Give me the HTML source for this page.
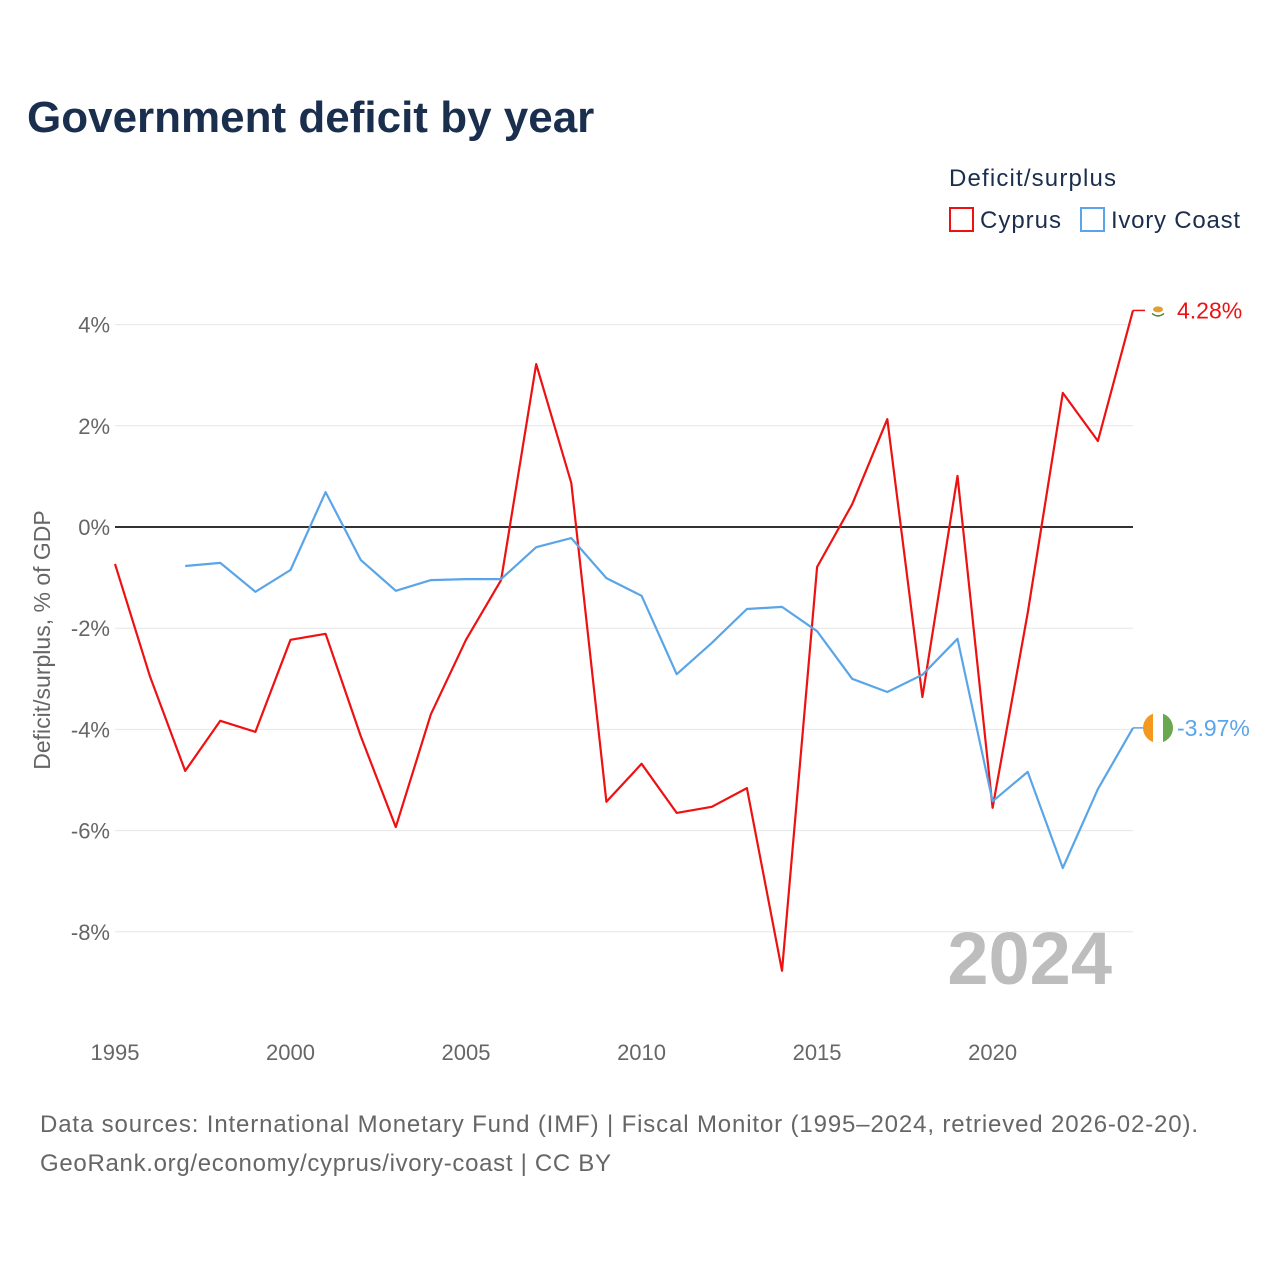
<!DOCTYPE html>
<html><head><meta charset="utf-8">
<style>
body{margin:0;background:#fff;font-family:"Liberation Sans",sans-serif;}
svg text{font-family:"Liberation Sans",sans-serif;}
</style></head>
<body>
<svg id="chart" width="1280" height="1280" xmlns="http://www.w3.org/2000/svg">
<rect width="1280" height="1280" fill="#fff"/>
<text x="27" y="132" font-size="44" font-weight="bold" fill="#1a2e4d">Government deficit by year</text>
<text x="949" y="186" font-size="24" fill="#1a2e4d" textLength="167">Deficit/surplus</text>
<g>
<rect x="950" y="208" width="23" height="23" fill="none" stroke="#ee1111" stroke-width="2"/>
<text x="980" y="228" font-size="24" fill="#1a2e4d" textLength="81">Cyprus</text></g>
<g>
<rect x="1081" y="208" width="23" height="23" fill="none" stroke="#5aa5e8" stroke-width="2"/>
<text x="1111" y="228" font-size="24" fill="#1a2e4d" textLength="129">Ivory Coast</text></g>
<text transform="translate(50,640) rotate(-90)" text-anchor="middle" font-size="23" fill="#666">Deficit/surplus, % of GDP</text>
<g id="grid"></g><g id="lines"></g>
<text x="1112" y="984" text-anchor="end" font-size="74" font-weight="bold" fill="#bdbdbd">2024</text>
<text x="40" y="1132" font-size="24" fill="#666" textLength="1158">Data sources: International Monetary Fund (IMF) | Fiscal Monitor (1995–2024, retrieved 2026-02-20).</text>
<text x="40" y="1171" font-size="24" fill="#666" textLength="571">GeoRank.org/economy/cyprus/ivory-coast | CC BY</text>
</svg>
<script>
const years = [1995,1996,1997,1998,1999,2000,2001,2002,2003,2004,2005,2006,2007,2008,2009,2010,2011,2012,2013,2014,2015,2016,2017,2018,2019,2020,2021,2022,2023,2024];
const cyprus = [-0.73,-2.96,-4.82,-3.83,-4.05,-2.23,-2.11,-4.13,-5.93,-3.70,-2.23,-1.05,3.22,0.87,-5.43,-4.68,-5.65,-5.53,-5.16,-8.77,-0.79,0.45,2.13,-3.36,1.01,-5.55,-1.7,2.65,1.70,4.28];
const ivory = [null,null,-0.77,-0.71,-1.28,-0.85,0.69,-0.65,-1.26,-1.05,-1.03,-1.03,-0.40,-0.22,-1.01,-1.36,-2.91,-2.29,-1.62,-1.58,-2.06,-3.00,-3.26,-2.92,-2.21,-5.42,-4.84,-6.74,-5.18,-3.97];
const yTicks = [4,2,0,-2,-4,-6,-8];
const xTicks = [1995,2000,2005,2010,2015,2020];
const NS="http://www.w3.org/2000/svg";
const x = y => 115 + (y-1995)*(1133-115)/29;
const yv = v => 527 - v*50.6;
function mk(t,a,p){const e=document.createElementNS(NS,t);for(const k in a)e.setAttribute(k,a[k]);p.appendChild(e);return e;}
const grid=document.getElementById('grid'), lines=document.getElementById('lines');
yTicks.forEach(t=>{
  const l=mk('line',{x1:115,x2:1133,y1:yv(t),y2:yv(t),stroke:t===0?'#333':'#e6e6e6','stroke-width':t===0?2:1},grid);
  
  
  const tx=mk('text',{x:110,y:yv(t)+8,'text-anchor':'end','font-size':22,fill:'#666'},grid);
  tx.textContent=t+'%';
  
  
});
xTicks.forEach(t=>{
  const tx=mk('text',{x:x(t),y:1060,'text-anchor':'middle','font-size':22,fill:'#666'},grid);
  tx.textContent=t;
  
  
});
function series(vals,color,name){
  let d='';vals.forEach((v,i)=>{if(v===null)return;d+=(d?'L':'M')+x(years[i]).toFixed(1)+','+yv(v).toFixed(1);});
  const p=mk('path',{d:d,fill:'none',stroke:color,'stroke-width':2.2,'stroke-linejoin':'round'},lines);
  
  
  const last=vals[vals.length-1];
  const ly=yv(last);
  mk('line',{x1:1133,x2:1145,y1:ly,y2:ly,stroke:color,'stroke-width':1.5},lines);
  return ly;
}
const cy=series(cyprus,'#ee1111','cyprus');
const iy=series(ivory,'#5aa5e8','ivory-coast');
const cf=mk('circle',{cx:1158,cy:cy,r:8,fill:'#fff'},lines);


mk('ellipse',{cx:1158,cy:cy-1,rx:5,ry:3,fill:'#e0a030'},lines);
mk('path',{d:`M1152 ${cy+3} Q1158 ${cy+8} 1164 ${cy+3}`,stroke:'#4a8a30',fill:'none','stroke-width':1.5},lines);
const ig=mk('g',{},lines);


mk('path',{d:`M1158 ${iy-15} A15 15 0 0 0 1158 ${iy+15} Z`,fill:'#f39a1e'},ig);
mk('path',{d:`M1158 ${iy-15} A15 15 0 0 1 1158 ${iy+15} Z`,fill:'#6aa84f'},ig);
mk('rect',{x:1153,y:iy-15,width:10,height:30,fill:'#fff'},ig);
const ct=mk('text',{x:1177,y:cy+8,'font-size':23,fill:'#ee1111'},lines);
ct.textContent=cyprus[cyprus.length-1].toFixed(2)+'%';


const it=mk('text',{x:1177,y:iy+8,'font-size':23,fill:'#5aa5e8'},lines);
it.textContent=ivory[ivory.length-1].toFixed(2)+'%';


</script>
</body></html>
